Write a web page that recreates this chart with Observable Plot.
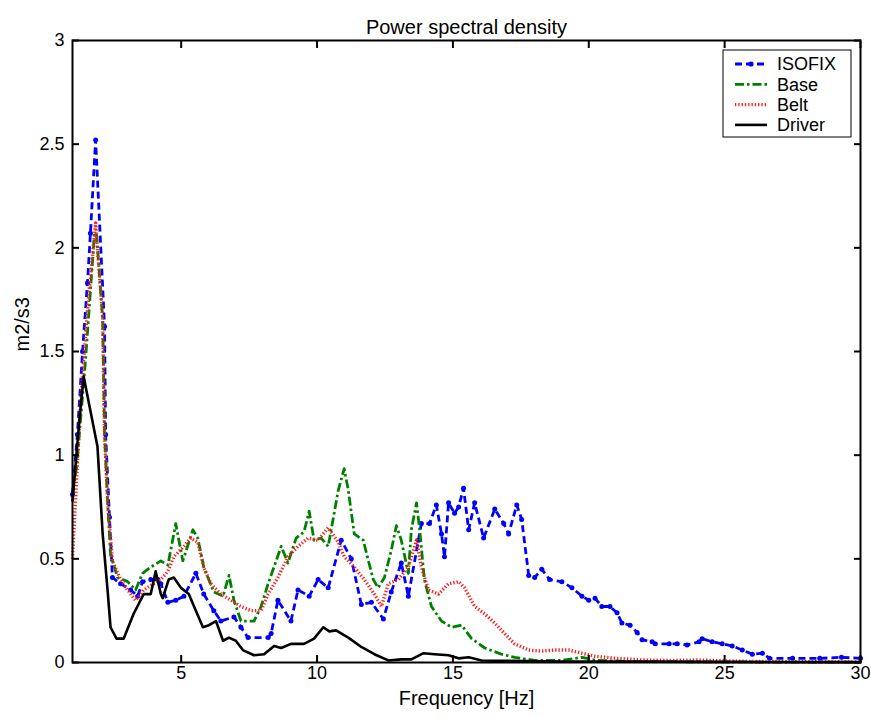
<!DOCTYPE html>
<html><head><meta charset="utf-8">
<script src="https://cdn.jsdelivr.net/npm/d3@7"></script>
<script src="https://cdn.jsdelivr.net/npm/@observablehq/plot@0.6"></script>
<style>
body{margin:0;background:#fff;}
#chart{position:relative;width:871px;height:717px;}
</style></head><body><div id="chart"></div>
<script>
const xTicks = [5, 10, 15, 20, 25, 30];
const yTicks = [0, 0.5, 1, 1.5, 2, 2.5, 3];
const yTickLabels = ["0", "0.5", "1", "1.5", "2", "2.5", "3"];
const seriesNames = ["ISOFIX", "Base", "Belt", "Driver"];

const isofixHz = [1.00,1.18,1.37,1.55,1.66,1.85,2.18,2.22,2.36,2.47,2.77,3.14,3.40,3.58,3.88,4.14,4.25,4.51,4.80,5.10,5.54,5.83,6.20,6.46,6.94,7.20,7.46,8.20,8.31,8.56,9.04,9.30,9.71,10.04,10.41,10.89,11.26,11.63,12.00,12.44,12.73,13.10,13.36,13.73,13.84,14.14,14.39,14.58,14.69,14.84,15.06,15.21,15.39,15.58,15.80,16.13,16.54,16.87,17.05,17.35,17.53,17.79,18.01,18.27,18.56,19.01,19.38,19.75,20.00,20.23,20.48,20.78,21.04,21.22,21.52,21.78,21.96,22.33,22.44,22.96,23.25,23.62,24.06,24.17,24.54,24.91,25.28,25.65,26.02,26.39,26.65,27.5,28.5,29.3,30.0];
const isofixVal = [0.81,1.10,1.50,1.83,2.07,2.52,1.62,1.10,0.70,0.41,0.38,0.35,0.32,0.39,0.40,0.40,0.38,0.29,0.30,0.32,0.43,0.33,0.25,0.20,0.22,0.17,0.12,0.12,0.14,0.30,0.20,0.35,0.32,0.40,0.36,0.59,0.50,0.28,0.29,0.21,0.34,0.48,0.32,0.59,0.67,0.67,0.76,0.62,0.51,0.77,0.72,0.75,0.84,0.64,0.77,0.60,0.74,0.67,0.62,0.76,0.69,0.42,0.41,0.45,0.40,0.39,0.36,0.32,0.30,0.31,0.27,0.27,0.24,0.19,0.18,0.145,0.11,0.10,0.09,0.09,0.09,0.085,0.10,0.115,0.10,0.09,0.08,0.06,0.04,0.045,0.02,0.02,0.02,0.025,0.02];

const baseHz = [1.00,1.15,1.48,1.81,1.88,2.11,2.18,2.29,2.40,2.66,3.03,3.32,3.58,3.88,4.25,4.51,4.80,5.06,5.43,5.61,5.83,6.20,6.54,6.76,6.94,7.20,7.68,7.94,8.20,8.68,8.93,9.23,9.52,9.71,9.89,10.15,10.41,10.78,11.00,11.15,11.37,11.70,11.89,12.07,12.25,12.48,12.73,12.92,13.10,13.36,13.47,13.66,13.77,13.95,14.21,14.58,14.95,15.32,15.69,16.17,16.79,17.27,18.01,19.0,19.75,20.3,21.5,23,25,27,30];
const baseVal = [0.82,0.94,1.46,2.07,2.07,1.66,1.10,0.78,0.52,0.41,0.39,0.35,0.43,0.46,0.49,0.47,0.67,0.49,0.64,0.60,0.46,0.34,0.32,0.42,0.30,0.20,0.20,0.27,0.38,0.56,0.48,0.60,0.63,0.73,0.59,0.60,0.56,0.83,0.935,0.83,0.62,0.59,0.49,0.40,0.36,0.41,0.54,0.66,0.59,0.43,0.64,0.77,0.65,0.40,0.27,0.20,0.17,0.18,0.115,0.07,0.04,0.025,0.01,0.01,0.025,0.01,0.005,0.004,0.003,0.002,0.002];

const beltHz = [1.00,1.11,1.30,1.55,1.85,2.11,2.18,2.29,2.47,2.77,3.03,3.32,3.62,3.99,4.25,4.51,4.73,5.10,5.35,5.61,5.83,6.09,6.46,6.83,7.20,7.57,7.94,8.20,8.56,8.93,9.30,9.67,10.04,10.41,10.78,11.00,11.37,11.74,12.11,12.37,12.62,12.99,13.36,13.66,13.84,14.10,14.47,14.84,15.21,15.43,15.80,16.17,16.54,16.90,17.27,17.79,18.27,18.75,19.27,19.75,20.23,21.0,22.0,23.0,24.0,25.0,26.0,28.0,30.0];
const beltVal = [0.50,0.78,1.26,1.70,2.12,1.66,1.10,0.78,0.49,0.40,0.35,0.30,0.35,0.38,0.40,0.44,0.51,0.56,0.60,0.58,0.46,0.38,0.33,0.30,0.27,0.25,0.25,0.33,0.41,0.51,0.56,0.60,0.59,0.65,0.58,0.51,0.46,0.40,0.33,0.27,0.38,0.40,0.46,0.59,0.46,0.35,0.33,0.38,0.39,0.36,0.27,0.235,0.19,0.14,0.09,0.06,0.055,0.06,0.06,0.045,0.03,0.02,0.012,0.01,0.012,0.008,0.005,0.004,0.003];

const driverHz = [1.00,1.26,1.41,1.92,2.11,2.29,2.40,2.62,2.88,3.25,3.62,3.88,4.06,4.25,4.32,4.54,4.73,4.99,5.28,5.54,5.80,6.02,6.28,6.54,6.76,7.01,7.27,7.68,8.05,8.42,8.68,9.04,9.52,9.89,10.23,10.45,10.70,11.15,11.63,12.11,12.62,13.10,13.47,13.92,14.32,14.84,15.21,15.58,16.06,17.0,19.0,22.0,25.0,30.0];
const driverVal = [0.78,1.18,1.38,1.04,0.62,0.35,0.17,0.115,0.115,0.235,0.33,0.33,0.44,0.33,0.31,0.40,0.41,0.36,0.33,0.25,0.17,0.18,0.20,0.105,0.12,0.105,0.06,0.035,0.04,0.08,0.07,0.09,0.09,0.115,0.17,0.15,0.155,0.12,0.075,0.04,0.01,0.015,0.015,0.045,0.04,0.035,0.02,0.025,0.01,0.008,0.005,0.004,0.003,0.002];

const rows = (hz, val) => hz.map((h, i) => ({hz: h, v: val[i]}));
const isofix = rows(isofixHz, isofixVal);
const base = rows(baseHz, baseVal);
const belt = rows(beltHz, beltVal);
const driver = rows(driverHz, driverVal);

const FONT = "'Liberation Sans', Arial, Helvetica, sans-serif";
const styles = {
  ISOFIX: {stroke: "#0000ff", strokeWidth: 2.8, strokeDasharray: "7,4", strokeLinecap: "butt"},
  Base: {stroke: "#008000", strokeWidth: 2.8, strokeDasharray: "9,3,2.5,3", strokeLinecap: "butt"},
  Belt: {stroke: "#ff1a1a", strokeWidth: 3.4, strokeDasharray: "1.3,2", strokeLinecap: "butt"},
  Driver: {stroke: "#000000", strokeWidth: 2.6}
};

const chart = Plot.plot({
  width: 871, height: 717,
  marginLeft: 72, marginRight: 11, marginTop: 40, marginBottom: 55,
  style: {fontFamily: FONT, fontSize: "18px", color: "#000", background: "#fff"},
  x: {domain: [1, 30]},
  y: {domain: [0, 3]},
  marks: [
    Plot.line(isofix, {x: "hz", y: "v", ...styles.ISOFIX}),
    Plot.dot(isofix, {x: "hz", y: "v", r: 2.5, fill: "#0000ff", stroke: "none"}),
    Plot.line(base, {x: "hz", y: "v", ...styles.Base}),
    Plot.line(belt, {x: "hz", y: "v", ...styles.Belt}),
    Plot.line(driver, {x: "hz", y: "v", ...styles.Driver}),
    Plot.axisX(xTicks, {anchor: "bottom", tickSize: -7, tickPadding: 11, strokeWidth: 2, tickFormat: d => String(d), label: null, fontSize: 18}),
    Plot.axisX(xTicks, {anchor: "top", tickSize: -7, strokeWidth: 2, tickFormat: () => "", label: null}),
    Plot.axisY(yTicks, {anchor: "left", tickSize: -7, tickPadding: 15, strokeWidth: 2, tickFormat: (d, i) => yTickLabels[i], label: null, fontSize: 18}),
    Plot.axisY(yTicks, {anchor: "right", tickSize: -7, strokeWidth: 2, tickFormat: () => "", label: null}),
    Plot.frame({stroke: "#000", strokeWidth: 2}),
    Plot.text(["Power spectral density"], {text: d => d, frameAnchor: "top", dy: -21, fontSize: 20}),
    Plot.text(["Frequency [Hz]"], {text: d => d, frameAnchor: "bottom", dy: 42, fontSize: 20}),
    Plot.text(["m2/s3"], {text: d => d, frameAnchor: "left", dx: -50, rotate: -90, fontSize: 20})
  ]
});
document.getElementById("chart").appendChild(chart);

// legend box drawn inside the plot's SVG
const svg = d3.select(chart);
const lg = svg.append("g").attr("font-family", FONT).attr("font-size", 18).attr("text-anchor", "start");
lg.append("rect").attr("x", 723).attr("y", 50).attr("width", 128).attr("height", 87)
  .attr("fill", "#fff").attr("stroke", "#000").attr("stroke-width", 1);
seriesNames.forEach((name, i) => {
  const y = 64 + i * 20.3;
  const s = styles[name];
  lg.append("line").attr("x1", 735).attr("x2", 767).attr("y1", y).attr("y2", y)
    .attr("stroke", s.stroke).attr("stroke-width", s.strokeWidth)
    .attr("stroke-dasharray", s.strokeDasharray || null);
  if (name === "ISOFIX") lg.append("circle").attr("cx", 751).attr("cy", y).attr("r", 2.6).attr("fill", s.stroke);
  lg.append("text").attr("x", 777).attr("y", y).attr("dy", "0.35em").attr("text-anchor", "start").text(name);
});
</script>
</body></html>
